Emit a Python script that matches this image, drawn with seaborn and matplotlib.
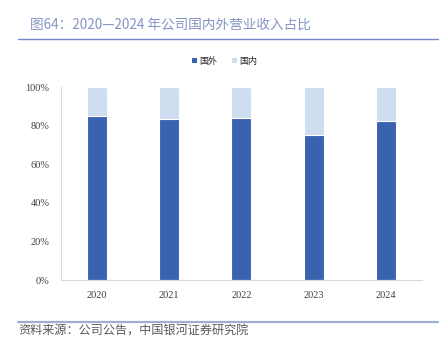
import matplotlib
matplotlib.use("Agg")
import matplotlib.pyplot as plt
import seaborn as sns
import pandas as pd
from matplotlib.patches import Patch
from matplotlib.lines import Line2D

years = ["2020", "2021", "2022", "2023", "2024"]
foreign = [85.1, 83.4, 84.1, 75.1, 82.5]
domestic = [100 - v for v in foreign]
yticks = [0, 20, 40, 60, 80, 100]
ytick_labels = ["0%", "20%", "40%", "60%", "80%", "100%"]

title = "图64：2020—2024 年公司国内外营业收入占比"
source = "资料来源：公司公告，中国银河证券研究院"
series_names = ["国外", "国内"]

dark = "#3A63AF"
light = "#CFDDF1"

sns.set_theme(style="white")
plt.rcParams["font.family"] = ["Noto Sans CJK SC", "DejaVu Sans"]

df = pd.DataFrame({"year": years, "foreign": foreign,
                   "total": [f + d for f, d in zip(foreign, domestic)]})

fig = plt.figure(figsize=(4.4, 3.39), dpi=100)
ax = fig.add_axes([0.138, 0.174, 0.821, 0.569])

sns.barplot(data=df, x="year", y="total", color=light, width=0.277,
            edgecolor="white", linewidth=0.8, saturation=1, ax=ax)
sns.barplot(data=df, x="year", y="foreign", color=dark, width=0.277,
            edgecolor="white", linewidth=0.8, saturation=1, ax=ax)

ax.set_xlim(-0.5, 4.5)
ax.set_ylim(0, 100)
ax.set_yticks(yticks)
ax.set_yticklabels(ytick_labels, family="Liberation Serif", fontsize=7.5, color="#404040")
ax.set_xticks(range(len(years)))
ax.set_xticklabels(years, family="Liberation Serif", fontsize=7.5, color="#404040")
ax.set_xlabel("")
ax.set_ylabel("")
ax.tick_params(axis="y", length=0, pad=8)
ax.tick_params(axis="x", length=0, pad=8)
for s in ["top", "right"]:
    ax.spines[s].set_visible(False)
for s in ["left", "bottom"]:
    ax.spines[s].set_color("#D9D9D9")
    ax.spines[s].set_linewidth(0.8)

handles = [Patch(facecolor=dark, edgecolor="none"), Patch(facecolor=light, edgecolor="none")]
fig.legend(handles, series_names, loc="center", bbox_to_anchor=(0.51, 0.82),
           ncol=2, frameon=False, prop={"size": 6.5},
           handlelength=0.55, handleheight=0.55,
           handletextpad=0.25, columnspacing=1.6)

fig.text(0.068, 0.928, title, fontsize=9.8, color="#8494C4", va="center", ha="left")
fig.add_artist(Line2D([0.04, 0.995], [0.886, 0.886], color="#7489CC", linewidth=1.0,
                      transform=fig.transFigure))
fig.add_artist(Line2D([0.04, 0.995], [0.049, 0.049], color="#9EAFD6", linewidth=1.6,
                      transform=fig.transFigure))
fig.text(0.042, 0.024, source, fontsize=8.7, color="#595959", va="center", ha="left",
         style="italic")

fig.savefig("out.png", dpi=100)
